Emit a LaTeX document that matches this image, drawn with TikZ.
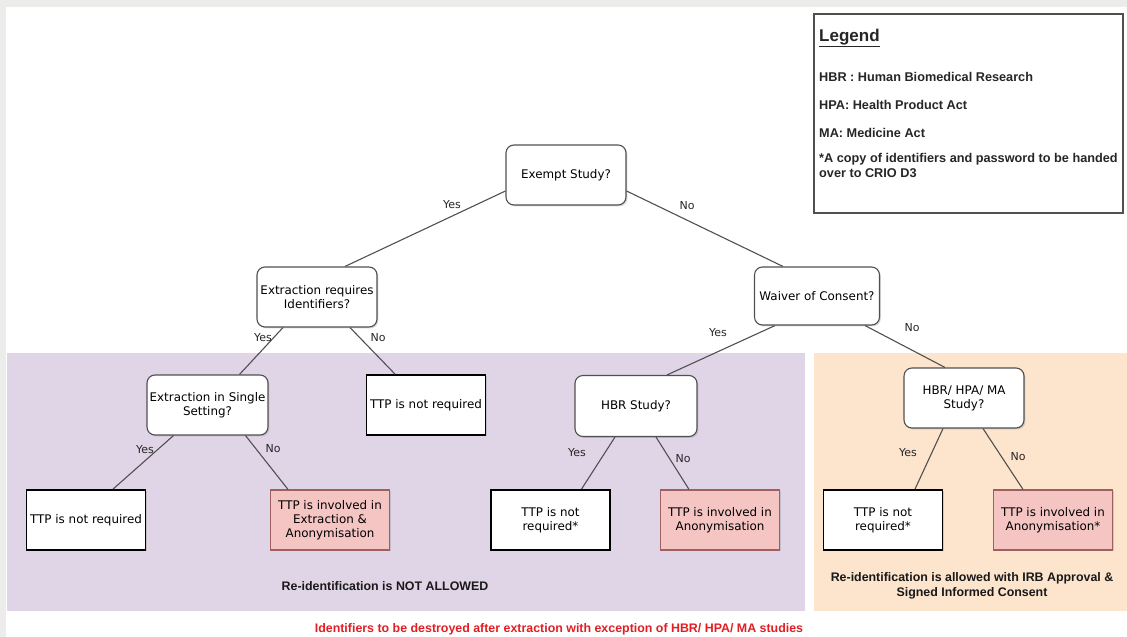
\documentclass[tikz,border=0pt]{standalone}
\usepackage{fontspec}
\setmainfont{DejaVu Sans}
\newfontfamily\arialfont{Liberation Sans}
\usetikzlibrary{shadows,calc}
\definecolor{purplebg}{RGB}{224,213,231}
\definecolor{orangebg}{RGB}{252,228,205}
\definecolor{pinkfill}{RGB}{245,197,196}
\definecolor{pinkdraw}{RGB}{160,96,96}
\definecolor{linegray}{RGB}{80,80,80}
\definecolor{framegray}{RGB}{236,236,234}
\definecolor{redtext}{RGB}{225,30,35}
\begin{document}
\begin{tikzpicture}[x=1pt,y=-1pt,
  boxfont/.style={font=\fontsize{11.9}{14}\selectfont},
  decision/.style={boxfont, draw=linegray, line width=1.1pt, rounded corners=8pt, fill=white,
    minimum width=120pt, minimum height=60pt, align=center, inner sep=0.5pt,
    drop shadow={opacity=0.3, shadow xshift=1.4pt, shadow yshift=-1.4pt}},
  outcome/.style={boxfont, draw=black, line width=1.8pt, fill=white,
    minimum width=119pt, minimum height=60pt, align=center, inner sep=0.5pt,
    drop shadow={opacity=0.3, shadow xshift=1.4pt, shadow yshift=-1.4pt}},
  involve/.style={boxfont, draw=pinkdraw, line width=1.2pt, fill=pinkfill,
    minimum width=119pt, minimum height=60pt, align=center, inner sep=0.5pt,
    drop shadow={opacity=0.3, shadow xshift=1.4pt, shadow yshift=-1.4pt}},
  conn/.style={draw=linegray, line width=1.1pt},
  lbl/.style={font=\fontsize{11}{13}\selectfont, text=black!85, inner sep=0pt},
  note/.style={font=\arialfont\bfseries\fontsize{12.4}{15}\selectfont, align=center, inner sep=0pt, text=black!90},
  legendtxt/.style={font=\arialfont\bfseries\fontsize{12.7}{15}\selectfont, align=left, inner sep=0pt, text=black!85},
]
\useasboundingbox (0,0) rectangle (1127,637);
\clip (0,0) rectangle (1127,637);
% frame strips
\fill[framegray] (0,0) rectangle (1127,7);
\fill[framegray] (0,0) rectangle (6,637);
% coloured regions
\fill[purplebg] (7,353) rectangle (805,611);
\fill[orangebg] (814,353) rectangle (1127,611);

% legend
\draw[linegray, line width=1.2pt, drop shadow={opacity=0.3, shadow xshift=1.4pt, shadow yshift=-1.4pt}, fill=white] (814,14) rectangle (1123,213);
\node[legendtxt, anchor=west, font=\arialfont\bfseries\fontsize{17}{19}\selectfont] (legtitle) at (819,38) {\underline{Legend}};
\node[legendtxt, anchor=west] (leg1) at (819,77) {HBR : Human Biomedical Research};
\node[legendtxt, anchor=west] (leg2) at (819,105) {HPA: Health Product Act};
\node[legendtxt, anchor=west] (leg3) at (819,133) {MA: Medicine Act};
\node[legendtxt, anchor=north west] (leg4) at (819,153) {*A copy of identifiers and password to be handed\\over to CRIO D3};

% decision nodes
\node[decision] (exempt) at (566,175) {Exempt Study?};
\node[decision] (extid) at (317,297) {Extraction requires\\Identifiers?};
\node[decision, minimum width=125pt, minimum height=58pt] (waiver) at (817,296) {Waiver of Consent?};
\node[decision, minimum width=121pt] (single) at (207.5,405) {Extraction in Single\\Setting?};
\node[outcome] (ttp1) at (426,405) {TTP is not required};
\node[decision, minimum width=122pt, minimum height=61pt] (hbr) at (636,406) {HBR Study?};
\node[decision] (hbrhpa) at (964,398) {HBR/ HPA/ MA\\Study?};

% bottom row
\node[outcome] (ttp2) at (86,520) {TTP is not required};
\node[involve] (pink1) at (330,520) {TTP is involved in\\Extraction \&\\Anonymisation};
\node[outcome] (ttp3) at (550.5,520) {TTP is not\\required*};
\node[involve] (pink2) at (720,520) {TTP is involved in\\Anonymisation};
\node[outcome] (ttp4) at (883,520) {TTP is not\\required*};
\node[involve] (pink3) at (1053,520) {TTP is involved in\\Anonymisation*};

% connectors
\draw[conn] ($(exempt.west)+(0,16)$) -- ($(extid.north)+(28,0)$);
\draw[conn] ($(exempt.east)+(0,16)$) -- ($(waiver.north)+(-34,0)$);
\draw[conn] ($(extid.south)+(-34,0)$) -- ($(single.north)+(32,0)$);
\draw[conn] ($(extid.south)+(33,0)$) -- ($(ttp1.north)+(-31,0)$);
\draw[conn] ($(waiver.south)+(-42,0)$) -- ($(hbr.north)+(31,0)$);
\draw[conn] ($(waiver.south)+(48,0)$) -- ($(hbrhpa.north)+(-19,0)$);
\draw[conn] ($(single.south)+(-34,0)$) -- ($(ttp2.north)+(27,0)$);
\draw[conn] ($(single.south)+(38,0)$) -- ($(pink1.north)+(-42,0)$);
\draw[conn] ($(hbr.south)+(-21,0)$) -- ($(ttp3.north)+(31,0)$);
\draw[conn] ($(hbr.south)+(20,0)$) -- ($(pink2.north)+(-31,0)$);
\draw[conn] ($(hbrhpa.south)+(-21,0)$) -- ($(ttp4.north)+(32,0)$);
\draw[conn] ($(hbrhpa.south)+(19,0)$) -- ($(pink3.north)+(-30,0)$);

% branch labels
\node[lbl] (y1) at (452,205) {Yes};
\node[lbl] (n1) at (687,206) {No};
\node[lbl] (y2) at (263,338) {Yes};
\node[lbl] (n2) at (378,338) {No};
\node[lbl] (y3) at (718,333) {Yes};
\node[lbl] (n3) at (912,328) {No};
\node[lbl] (y4) at (145,450) {Yes};
\node[lbl] (n4) at (273,449) {No};
\node[lbl] (y5) at (577,453) {Yes};
\node[lbl] (n5) at (683,459) {No};
\node[lbl] (y6) at (908,453) {Yes};
\node[lbl] (n6) at (1018,457) {No};

% notes
\node[note] (notallowed) at (385,586) {Re-identification is NOT ALLOWED};
\node[note] (allowed) at (972,586) {Re-identification is allowed with IRB Approval \&\\Signed Informed Consent};
\node[note, text=redtext, anchor=base] (destroy) at (559,632.5) {Identifiers to be destroyed after extraction with exception of HBR/ HPA/ MA studies};
\end{tikzpicture}
\end{document}
